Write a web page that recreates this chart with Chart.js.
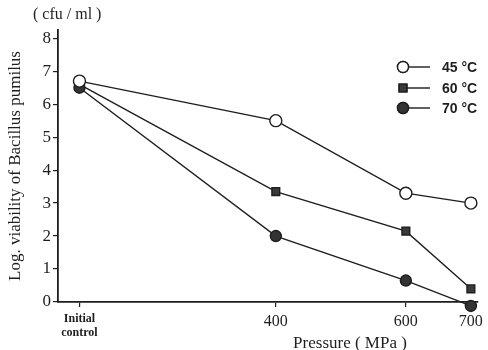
<!DOCTYPE html>
<html lang="en">
  <head>
    <meta charset="UTF-8" />
    <title>Log. viability of Bacillus pumilus</title>
    <script src="https://cdn.jsdelivr.net/npm/chart.js@4.4.0/dist/chart.umd.min.js"></script>
    <style>
      body {
        margin: 0;
        padding: 0;
        background-color: #fff;
      }

      .chart-container {
        width: 488px;
        height: 350px;
      }
    </style>
  </head>
  <body>
    <div class="chart-container">
      <canvas id="viabilityChart" width="488" height="350"></canvas>
    </div>

    <script>
      // Axis positions: the initial control sits left of 400 MPa on the axis
      const pressures = [98, 400, 600, 700];
      const pressureLabels = [["Initial", "control"], "400", "600", "700"];
      const yTicks = [0, 1, 2, 3, 4, 5, 6, 7, 8];

      const seriesNames = ["45 °C", "60 °C", "70 °C"];
      const viability45 = [6.7, 5.5, 3.3, 3.0];
      const viability60 = [6.6, 3.35, 2.15, 0.4];
      const viability70 = [6.5, 2.0, 0.65, -0.12];

      const serif = "'Liberation Serif', 'DejaVu Serif', serif";
      const ink = "#1e1e1e";

      function toPoints(values) {
        return values.map((v, i) => ({ x: pressures[i], y: v }));
      }

      const datasets = [
        {
          label: seriesNames[2],
          data: toPoints(viability70),
          pointStyle: "circle",
          pointRadius: 5.5,
          backgroundColor: "#333",
          order: 1,
        },
        {
          label: seriesNames[1],
          data: toPoints(viability60),
          pointStyle: "rect",
          pointRadius: 5.5,
          backgroundColor: "#3a3a3a",
          order: 2,
        },
        {
          label: seriesNames[0],
          data: toPoints(viability45),
          pointStyle: "circle",
          pointRadius: 6,
          backgroundColor: "#fff",
          order: 0,
        },
      ].map((d) => ({
        ...d,
        borderColor: ink,
        borderWidth: 1.4,
        pointBorderWidth: 1.4,
        pointBorderColor: ink,
        pointBackgroundColor: d.backgroundColor,
        showLine: true,
        fill: false,
        clip: false,
      }));

      // Legend and loose texts drawn on top of the chart
      const extrasPlugin = {
        id: "extras",
        afterDraw(chart) {
          const ctx = chart.ctx;
          ctx.save();
          ctx.fillStyle = ink;
          ctx.strokeStyle = ink;
          ctx.textBaseline = "middle";

          ctx.font = "16px " + serif;
          ctx.textAlign = "left";
          ctx.fillText("( cfu / ml )", 33, 15);

          ctx.font = "17px " + serif;
          ctx.textAlign = "center";
          ctx.fillText("Pressure ( MPa )", 350, 344);

          const rows = [
            { name: seriesNames[0], y: 67, style: "circle", fill: "#fff" },
            { name: seriesNames[1], y: 88, style: "rect", fill: "#3a3a3a" },
            { name: seriesNames[2], y: 108, style: "circle", fill: "#333" },
          ];
          ctx.font = "bold 14px 'Liberation Sans', Arial, sans-serif";
          ctx.textAlign = "left";
          rows.forEach((r) => {
            ctx.lineWidth = 1.4;
            ctx.beginPath();
            ctx.moveTo(405, r.y);
            ctx.lineTo(430, r.y);
            ctx.stroke();
            ctx.fillStyle = r.fill;
            Chart.helpers.drawPoint(
              ctx,
              { pointStyle: r.style, radius: 5.5, borderWidth: 1.4 },
              403,
              r.y
            );
            ctx.fill();
            ctx.stroke();
            ctx.fillStyle = ink;
            ctx.fillText(r.name, 442, r.y + 1);
          });
          ctx.restore();
        },
      };

      const config = {
        type: "scatter",
        data: { datasets },
        options: {
          responsive: false,
          animation: false,
          layout: { padding: { top: 30, right: 0, left: 0, bottom: 0 } },
          plugins: {
            legend: { display: false },
            tooltip: { enabled: false },
          },
          scales: {
            x: {
              type: "linear",
              min: 65,
              max: 711,
              afterBuildTicks: (axis) => {
                axis.ticks = pressures.map((v) => ({ value: v }));
              },
              afterFit: (axis) => {
                axis.height = 48;
              },
              grid: {
                drawOnChartArea: false,
                tickLength: 5,
                color: ink,
                lineWidth: 1.2,
              },
              border: { color: ink, width: 1.8 },
              ticks: {
                color: ink,
                padding: 5,
                maxRotation: 0,
                autoSkip: false,
                font: (c) =>
                  c.index === 0
                    ? { family: serif, size: 12, weight: "bold", lineHeight: 1.15 }
                    : { family: serif, size: 16 },
                callback: (value) => pressureLabels[pressures.indexOf(value)],
              },
            },
            y: {
              type: "linear",
              min: 0,
              max: 8.25,
              afterBuildTicks: (axis) => {
                axis.ticks = yTicks.map((v) => ({ value: v }));
              },
              afterFit: (axis) => {
                axis.width = 58;
              },
              grid: {
                drawOnChartArea: false,
                tickLength: 5,
                color: ink,
                lineWidth: 1.2,
              },
              border: { color: ink, width: 1.8 },
              ticks: {
                color: ink,
                padding: 2,
                font: { family: serif, size: 17 },
              },
              title: {
                display: true,
                text: "Log. viability of Bacillus pumilus",
                color: ink,
                font: { family: serif, size: 17 },
                padding: { top: 5, bottom: 2 },
              },
            },
          },
        },
        plugins: [extrasPlugin],
      };

      const viabilityChart = new Chart(
        document.getElementById("viabilityChart"),
        config
      );
    </script>
  </body>
</html>
